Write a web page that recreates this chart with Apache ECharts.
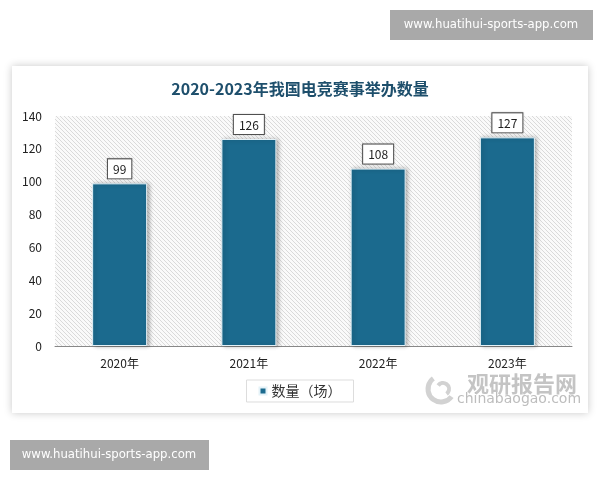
<!DOCTYPE html>
<html>
<head>
<meta charset="utf-8">
<script src="https://cdn.jsdelivr.net/npm/echarts@6/dist/echarts.min.js"></script>
<style>
html,body{margin:0;padding:0;background:#fff;}
#main{width:600px;height:480px;}
</style>
</head>
<body>
<div id="main"></div>
<script>
var categories = ['2020年', '2021年', '2022年', '2023年'];
var values = [99, 126, 108, 127];
var seriesName = '数量（场）';
var titleText = '2020-2023年我国电竞赛事举办数量';
var yTicks = { min: 0, max: 140, interval: 20 };

// hatch pattern
var pc = document.createElement('canvas');
pc.width = 4; pc.height = 4;
var px = pc.getContext('2d');
px.fillStyle = '#fafafa';
px.fillRect(0, 0, 4, 4);
px.strokeStyle = '#dadada';
px.lineWidth = 1;
px.beginPath();
px.moveTo(-1, -1); px.lineTo(5, 5);
px.moveTo(-1, 3); px.lineTo(1, 5);
px.moveTo(3, -1); px.lineTo(5, 1);
px.stroke();

var font = '"Noto Sans CJK SC", "Noto Sans", sans-serif';
var chart = echarts.init(document.getElementById('main'));
chart.setOption({
  backgroundColor: '#ffffff',
  animation: false,
  title: {
    text: titleText,
    left: 'center',
    top: 76,
    textStyle: { fontFamily: font, fontSize: 16, fontWeight: 'bold', color: '#1e4f6c' }
  },
  legend: {
    data: [seriesName],
    left: 'center',
    top: 380,
    icon: 'rect',
    itemWidth: 7,
    itemHeight: 7,
    itemGap: 4,
    padding: [4, 12, 4, 12],
    borderColor: '#dddddd',
    borderWidth: 1,
    textStyle: { fontFamily: font, fontSize: 14, color: '#333' }
  },
  grid: {
    left: 55, right: 28, top: 116, bottom: 134,
    show: true,
    borderWidth: 0,
    backgroundColor: { image: pc, repeat: 'repeat' }
  },
  xAxis: {
    type: 'category',
    data: categories,
    axisLine: { lineStyle: { color: '#888' } },
    axisTick: { show: false },
    axisLabel: { fontFamily: font, fontSize: 12, color: '#222', margin: 11 }
  },
  yAxis: {
    type: 'value',
    min: yTicks.min, max: yTicks.max, interval: yTicks.interval,
    axisLine: { show: false },
    axisTick: { show: false },
    splitLine: { show: false },
    axisLabel: { fontFamily: font, fontSize: 12, color: '#222', margin: 13 }
  },
  series: [{
    name: seriesName,
    type: 'bar',
    data: values,
    barWidth: 55,
    itemStyle: {
      color: '#1b6a8e',
      borderColor: '#e4f2f8',
      borderWidth: 1,
      shadowBlur: 4,
      shadowColor: 'rgba(0,0,0,0.3)',
      shadowOffsetX: 2,
      shadowOffsetY: 0
    },
    label: {
      show: true,
      position: 'top',
      distance: 5,
      fontFamily: font,
      fontSize: 12,
      color: '#222',
      backgroundColor: '#fff',
      borderColor: '#555',
      borderWidth: 1,
      padding: [4, 5, 3, 5],
      shadowBlur: 2,
      shadowColor: 'rgba(0,0,0,0.2)'
    }
  }],
  graphic: [
    { type: 'rect', z: -10, shape: { x: 12, y: 66, width: 576, height: 347 },
      style: { fill: '#fff', shadowBlur: 8, shadowColor: 'rgba(0,0,0,0.22)' } },
    { type: 'rect', z: 10, shape: { x: 390, y: 10, width: 203, height: 30 }, style: { fill: '#a9a9a9' } },
    { type: 'text', z: 11, x: 491, y: 25, style: { text: 'www.huatihui-sports-app.com', fill: '#fff', font: '13px "DejaVu Sans Condensed", sans-serif', textAlign: 'center', textVerticalAlign: 'middle' } },
    { type: 'rect', z: 10, shape: { x: 10, y: 440, width: 199, height: 30 }, style: { fill: '#a9a9a9' } },
    { type: 'text', z: 11, x: 109, y: 455, style: { text: 'www.huatihui-sports-app.com', fill: '#fff', font: '13px "DejaVu Sans Condensed", sans-serif', textAlign: 'center', textVerticalAlign: 'middle' } },
    { type: 'text', z: 5, x: 522, y: 384, style: { text: '观研报告网', fill: '#c4c4c4', font: 'bold 22px "Noto Sans CJK SC", sans-serif', textAlign: 'center', textVerticalAlign: 'middle' } },
    { type: 'text', z: 5, x: 519, y: 399, style: { text: 'chinabaogao.com', fill: '#bdbdbd', font: '14px "DejaVu Sans", sans-serif', textAlign: 'center', textVerticalAlign: 'middle' } },
    { type: 'arc', z: 5, shape: { cx: 441, cy: 389, r: 13, startAngle: Math.PI * 0.2, endAngle: Math.PI * 1.3 }, style: { stroke: '#d2d2d2', lineWidth: 5, fill: null } },
    { type: 'arc', z: 5, shape: { cx: 443, cy: 389, r: 6, startAngle: Math.PI * 1.2, endAngle: Math.PI * 2.3 }, style: { stroke: '#d2d2d2', lineWidth: 4, fill: null } }
  ]
});
</script>
</body>
</html>
